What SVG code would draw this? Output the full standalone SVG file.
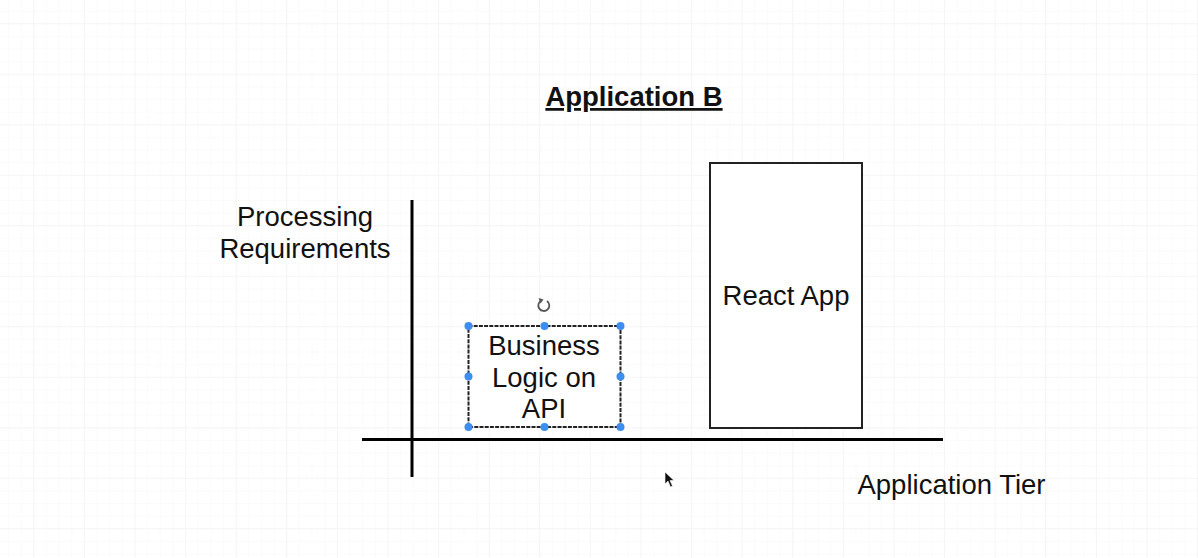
<svg xmlns="http://www.w3.org/2000/svg" width="1198" height="558" viewBox="0 0 1198 558">
  <defs>
    <pattern id="minor" x="33.3" y="23.3" width="12.65" height="12.625" patternUnits="userSpaceOnUse">
      <path d="M0 0 V12.625 M0 0 H12.65" fill="none" stroke="#f7f7f7" stroke-width="1"/>
    </pattern>
    <pattern id="major" x="33.3" y="23.3" width="50.6" height="50.5" patternUnits="userSpaceOnUse">
      <path d="M0 0 V50.5 M0 0 H50.6" fill="none" stroke="#efefef" stroke-width="1"/>
    </pattern>
    <style>
      .t { font-family: "Liberation Sans", Arial, Helvetica, sans-serif; font-size: 27.5px; fill: #111; }
      .title { font-weight: bold; text-decoration: underline; }
      .axis { stroke: #000; stroke-width: 3; fill: none; }
      .box { fill: #fff; stroke: #222; stroke-width: 2; }
      .sel { fill: #fff; stroke: #222; stroke-width: 2; stroke-dasharray: 4 1.2; }
      .h { fill: #3d8ef0; }
    </style>
  </defs>
  <rect width="1198" height="558" fill="#fff"/>
  <rect width="1198" height="558" fill="url(#minor)"/>
  <rect width="1198" height="558" fill="url(#major)"/>

  <g id="title">
    <text class="t title" x="634" y="106" text-anchor="middle">Application B</text>
  </g>

  <g id="connectors">
    <line class="axis" x1="412" y1="200" x2="412" y2="477"/>
    <line class="axis" x1="362" y1="439.5" x2="943" y2="439.5"/>
  </g>

  <g id="y-axis-label">
    <text class="t" x="305" y="226" text-anchor="middle">Processing</text>
    <text class="t" x="305" y="258" text-anchor="middle">Requirements</text>
  </g>

  <g id="x-axis-label">
    <text class="t" x="951.5" y="494" text-anchor="middle">Application Tier</text>
  </g>

  <g id="react-app">
    <rect class="box" x="710" y="163" width="152" height="265"/>
    <text class="t" x="786" y="305" text-anchor="middle">React App</text>
  </g>

  <g id="business-logic">
    <rect class="sel" x="468.5" y="326" width="152" height="101"/>
    <text class="t" x="544" y="355" text-anchor="middle">Business</text>
    <text class="t" x="544" y="387" text-anchor="middle">Logic on</text>
    <text class="t" x="544" y="418" text-anchor="middle">API</text>
    <circle class="h" cx="468.5" cy="326" r="4"/>
    <circle class="h" cx="544.5" cy="326" r="4"/>
    <circle class="h" cx="620.5" cy="326" r="4"/>
    <circle class="h" cx="468.5" cy="376.5" r="4"/>
    <circle class="h" cx="620.5" cy="376.5" r="4"/>
    <circle class="h" cx="468.5" cy="427" r="4"/>
    <circle class="h" cx="544.5" cy="427" r="4"/>
    <circle class="h" cx="620.5" cy="427" r="4"/>
    <path d="M541.5 300.5 A5.5 5.5 0 1 0 547 301" fill="none" stroke="#555" stroke-width="1.8"/>
    <path d="M538.5 298 L543.5 299.5 L540.5 303.5 Z" fill="#555"/>
  </g>

  <g id="cursor">
    <path d="M665 472 L665 484 L668 481 L670.5 487 L672.5 486 L670 480.5 L674 480.5 Z" fill="#111" stroke="#fff" stroke-width="0.6"/>
  </g>
</svg>
